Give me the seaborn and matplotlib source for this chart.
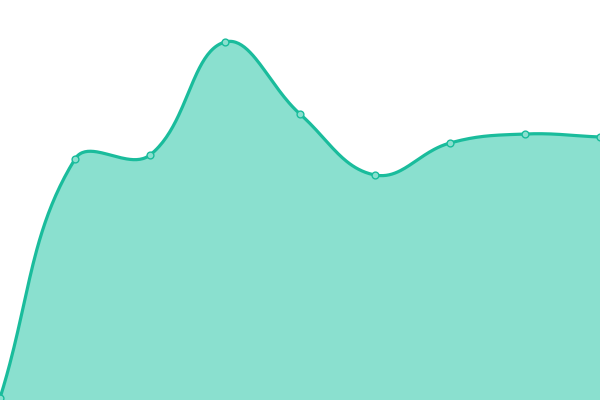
import numpy as np
import seaborn as sns
import matplotlib.pyplot as plt

# values (plot area 0..400)
xs = [0, 1, 2, 3, 4, 5, 6, 7, 8]
vals = [2, 241, 245, 358, 286, 225, 257, 266, 263]

line_col = "#1abc9c"
fill_col = "#8ae0cf"


def spline(x, y, t=0.4, xscale=75.0, n=50):
    # bezier smoothing like chart.js (tension 0.4), drawing only
    pts = np.column_stack([np.asarray(x, float) * xscale, np.asarray(y, float)])
    cp_prev, cp_next = [], []
    for i in range(len(pts)):
        prev = pts[max(i - 1, 0)]
        cur = pts[i]
        nxt = pts[min(i + 1, len(pts) - 1)]
        d01 = np.hypot(*(cur - prev))
        d12 = np.hypot(*(nxt - cur))
        tot = d01 + d12
        s01 = d01 / tot if tot else 0
        s12 = d12 / tot if tot else 0
        cp_prev.append(cur - t * s01 * (nxt - prev))
        cp_next.append(cur + t * s12 * (nxt - prev))
    u = np.linspace(0, 1, n)[:, None]
    out = []
    for i in range(len(pts) - 1):
        p0, c1, c2, p1 = pts[i], cp_next[i], cp_prev[i + 1], pts[i + 1]
        seg = ((1 - u) ** 3) * p0 + 3 * ((1 - u) ** 2) * u * c1 + 3 * (1 - u) * u ** 2 * c2 + u ** 3 * p1
        out.append(seg if i == 0 else seg[1:])
    out = np.vstack(out)
    return out[:, 0] / xscale, out[:, 1]


sns.set_theme(style="white")
fig = plt.figure(figsize=(6, 4), dpi=100)
ax = fig.add_axes([0, 0, 1, 1])

cx, cy = spline(xs, vals)
ax.fill(np.r_[cx, cx[-1], cx[0]], np.r_[cy, 0, 0], color=fill_col, lw=0)
sns.lineplot(x=cx, y=cy, ax=ax, color=line_col, lw=2.3, sort=False)
ax.scatter(xs, vals, s=24, facecolor=fill_col, edgecolor=line_col, lw=1, zorder=5, clip_on=False)

ax.set_xlim(0, 8)
ax.set_ylim(0, 400)
ax.axis("off")

fig.savefig("out.png", dpi=100)
